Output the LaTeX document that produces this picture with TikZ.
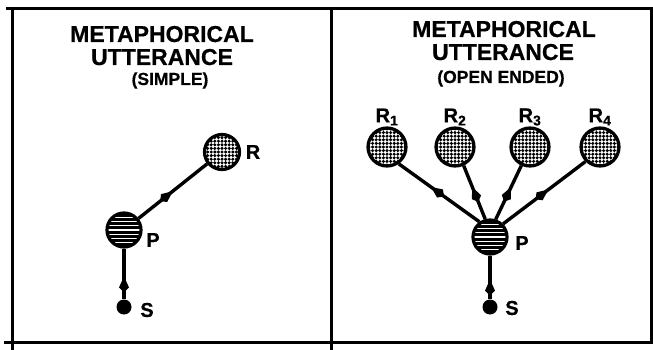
\documentclass[tikz,border=0pt]{standalone}
\usepackage{fontspec}
\setmainfont{Liberation Sans}[BoldFeatures={FakeBold=0.6}]
\usetikzlibrary{decorations.markings,arrows.meta}

\tikzset{
  frame/.style={line width=3pt, line cap=rect},
  link/.style={line width=3.4pt, postaction={decorate},
    decoration={markings, mark=at position #1 with {\arrow{Kite[length=16pt,width=10pt,inset'=5pt]}}}},
  stripes/.style={circle, draw=black, line width=3.2pt, fill=black, minimum size=#1, inner sep=0pt,
    path picture={
      \foreach \k in {-4,...,4}{
        \draw[white, line width=1.3pt] ([shift={(-30pt,\k*4.2pt)}]path picture bounding box.center) -- ++(60pt,0);
      }}},
  mesh/.style={circle, draw=black, line width=3.2pt, fill=white, minimum size=#1, inner sep=0pt,
    path picture={
      \foreach \i in {-6,...,6}{
        \foreach \j in {-6,...,6}{
          \fill[black] ([shift={(\i*3.6pt,\j*3.6pt)}]path picture bounding box.center) circle[radius=1.7pt];
        }}}},
  dot/.style={circle, fill=black, minimum size=15pt, inner sep=0pt},
  lbl/.style={font=\bfseries\fontsize{20}{20}\selectfont, inner sep=0pt},
  ttl/.style={font=\bfseries\fontsize{23}{23}\selectfont, inner sep=0pt, anchor=base},
  sub/.style={font=\bfseries\fontsize{17.5}{17.5}\selectfont, inner sep=0pt, anchor=base},
}

\begin{document}
\begin{tikzpicture}[x=1pt, y=1pt]
  \useasboundingbox (0,0) rectangle (653,-350);
  \fill[white] (0,0) rectangle (653,-350);

  % panel frame
  \draw[frame] (7,-9) -- (653,-9);
  \draw[frame] (12,-9) -- (12,-350);
  \draw[frame] (331,-9) -- (331,-350);
  \draw[frame] (651,-9) -- (651,-342);
  \draw[frame] (5,-342) -- (653,-342);

  % ---- simple metaphor ----
  \node[ttl] (tA1) at (162,-42) {METAPHORICAL};
  \node[ttl] (tA2) at (162,-65) {UTTERANCE};
  \node[sub] (tA3) at (170,-85) {(SIMPLE)};

  \node[mesh=35pt] (Ra) at (222,-152) {};
  \node[stripes=34pt] (Pa) at (124,-230) {};
  \node[dot] (Sa) at (124,-307) {};
  \draw[link=0.5] (Pa) -- (Ra);
  \draw[link=0.45] (Sa) -- (Pa);

  \node[lbl] (Ral) at (253,-152) {R};
  \node[lbl] (Pal) at (153,-240) {P};
  \node[lbl] (Sal) at (147,-310) {S};

  % ---- open-ended metaphor ----
  \node[ttl] (tB1) at (504,-37) {METAPHORICAL};
  \node[ttl] (tB2) at (503,-60) {UTTERANCE};
  \node[sub] (tB3) at (501,-83) {(OPEN ENDED)};

  \node[mesh=38pt] (R1) at (387,-147) {};
  \node[mesh=38pt] (R2) at (455,-147) {};
  \node[mesh=38pt] (R3) at (530,-147) {};
  \node[mesh=38pt] (R4) at (600,-147) {};
  \node[stripes=34pt] (Pb) at (490,-237) {};
  \node[dot] (Sb) at (490,-307) {};

  \draw[link=0.6] (Pb.125) -- (R1.-55);
  \draw[link=0.6] (Pb.105) -- (R2.-65);
  \draw[link=0.6] (Pb.72) -- (R3.-115);
  \draw[link=0.55] (Pb.45) -- (R4.-135);
  \draw[link=0.45] (Sb) -- (Pb);

  \node[lbl] (R1l) at (387,-117) {R\textsubscript{1}};
  \node[lbl] (R2l) at (455,-117) {R\textsubscript{2}};
  \node[lbl] (R3l) at (530,-117) {R\textsubscript{3}};
  \node[lbl] (R4l) at (600,-117) {R\textsubscript{4}};
  \node[lbl] (Pbl) at (522,-243) {P};
  \node[lbl] (Sbl) at (512,-308) {S};
\end{tikzpicture}
\end{document}
